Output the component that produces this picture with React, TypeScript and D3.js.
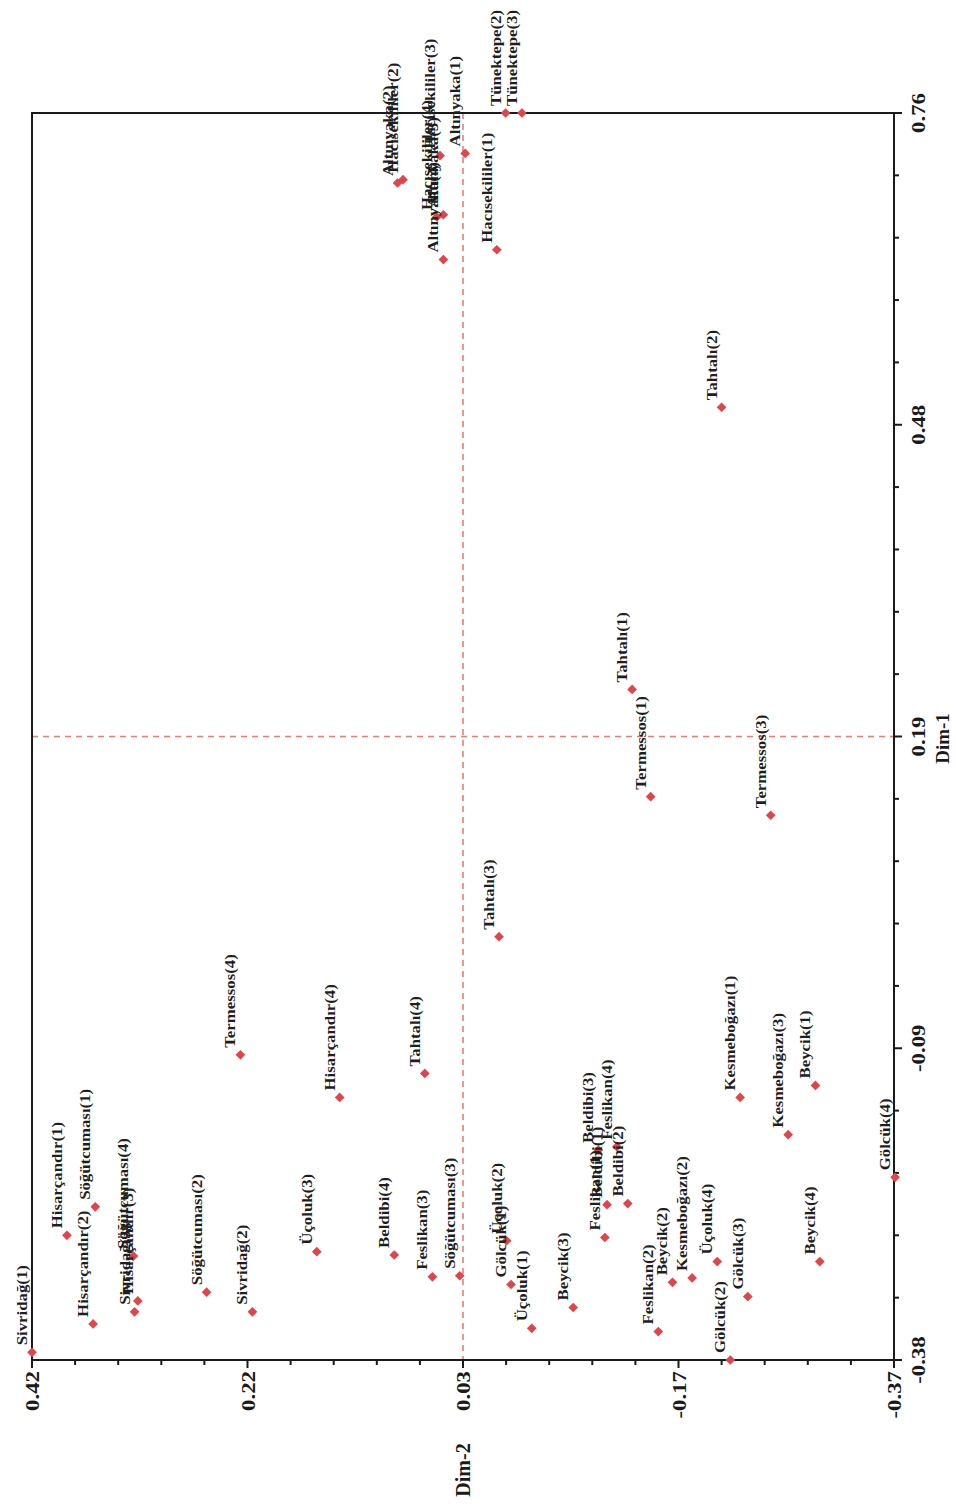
import React from "react";
import * as d3 from "d3";

// Correspondence analysis map (page rotated 90° CCW: Dim-1 runs upward, Dim-2 runs leftward)
const pointLabels = [
  "Tünektepe(2)", "Tünektepe(3)",
  "Altınyaka(1)", "Altınyaka(2)", "Altınyaka(3)", "Altınyaka(4)",
  "Hacısekililer(1)", "Hacısekililer(2)", "Hacısekililer(3)", "Hacısekililer(4)",
  "Tahtalı(1)", "Tahtalı(2)", "Tahtalı(3)", "Tahtalı(4)",
  "Termessos(1)", "Termessos(3)", "Termessos(4)",
  "Hisarçandır(1)", "Hisarçandır(2)", "Hisarçandır(3)", "Hisarçandır(4)",
  "Söğütcuması(1)", "Söğütcuması(2)", "Söğütcuması(3)", "Söğütcuması(4)",
  "Sivridağ(1)", "Sivridağ(2)", "Sivridağ(3)",
  "Üçoluk(1)", "Üçoluk(2)", "Üçoluk(3)", "Üçoluk(4)",
  "Gölcük(1)", "Gölcük(2)", "Gölcük(3)", "Gölcük(4)",
  "Beycik(1)", "Beycik(2)", "Beycik(3)", "Beycik(4)",
  "Kesmeboğazı(1)", "Kesmeboğazı(2)", "Kesmeboğazı(3)",
  "Feslikan(1)", "Feslikan(2)", "Feslikan(3)", "Feslikan(4)",
  "Beldibi(1)", "Beldibi(2)", "Beldibi(3)", "Beldibi(4)",
];

const dim1Values = [
  0.76, 0.76,
  0.723, 0.696, 0.667, 0.626,
  0.635, 0.699, 0.721, 0.665,
  0.233, 0.491, 0.007, -0.118,
  0.135, 0.118, -0.101,
  -0.266, -0.347, -0.326, -0.140,
  -0.240, -0.318, -0.303, -0.285,
  -0.373, -0.336, -0.336,
  -0.351, -0.271, -0.281, -0.290,
  -0.311, -0.380, -0.322, -0.213,
  -0.129, -0.309, -0.332, -0.290,
  -0.140, -0.305, -0.174,
  -0.268, -0.354, -0.304, -0.185,
  -0.238, -0.237, -0.188, -0.284,
];

const dim2Values = [
  -0.014, -0.029,
  0.023, 0.085, 0.043, 0.043,
  -0.006, 0.080, 0.046, 0.049,
  -0.130, -0.212, -0.008, 0.060,
  -0.147, -0.257, 0.229,
  0.388, 0.364, 0.323, 0.138,
  0.362, 0.260, 0.028, 0.327,
  0.420, 0.218, 0.326,
  -0.038, -0.015, 0.159, -0.208,
  -0.019, -0.220, -0.236, -0.371,
  -0.298, -0.167, -0.076, -0.302,
  -0.229, -0.185, -0.273,
  -0.105, -0.154, 0.053, -0.116,
  -0.107, -0.126, -0.099, 0.088,
];

const dim1Domain = [0.76, -0.38];
const dim2Domain = [0.42, -0.37];
const dim1TickLabels = ["0.76", "0.48", "0.19", "-0.09", "-0.38"];
const dim2TickLabels = ["0.42", "0.22", "0.03", "-0.17", "-0.37"];

const W = 956;
const H = 1508;
const LEFT = 32, RIGHT = 894, TOP = 113, BOTTOM = 1360;
const FONT = "'Liberation Serif', 'DejaVu Serif', serif";

export default function App() {
  const x = d3.scaleLinear().domain(dim2Domain).range([LEFT, RIGHT]);
  const y = d3.scaleLinear().domain(dim1Domain).range([TOP, BOTTOM]);

  const nMajor = 5;
  const xMajor = d3.range(nMajor).map((i) => dim2Domain[0] + (i * (dim2Domain[1] - dim2Domain[0])) / (nMajor - 1));
  const yMajor = d3.range(nMajor).map((i) => dim1Domain[0] + (i * (dim1Domain[1] - dim1Domain[0])) / (nMajor - 1));
  const xMinor = d3.range((nMajor - 1) * 5 + 1).map((i) => dim2Domain[0] + (i * (dim2Domain[1] - dim2Domain[0])) / ((nMajor - 1) * 5));
  const yMinor = d3.range((nMajor - 1) * 5 + 1).map((i) => dim1Domain[0] + (i * (dim1Domain[1] - dim1Domain[0])) / ((nMajor - 1) * 5));

  const xMid = (dim2Domain[0] + dim2Domain[1]) / 2;
  const yMid = (dim1Domain[0] + dim1Domain[1]) / 2;

  const diamond = d3.symbol().type(d3.symbolDiamond2).size(60)();

  return (
    <svg width={W} height={H} style={{ position: "absolute", left: 0, top: 0, background: "#fff" }}>
      {/* reference lines */}
      <line x1={x(xMid)} x2={x(xMid)} y1={TOP} y2={BOTTOM} stroke="#f07c6c" strokeWidth={1.6} strokeDasharray="6,5" />
      <line x1={LEFT} x2={RIGHT} y1={y(yMid)} y2={y(yMid)} stroke="#f07c6c" strokeWidth={1.6} strokeDasharray="6,5" />

      {/* frame */}
      <rect x={LEFT} y={TOP} width={RIGHT - LEFT} height={BOTTOM - TOP} fill="none" stroke="#1a1a1a" strokeWidth={2} />

      {/* bottom axis (Dim-2) */}
      {xMinor.map((v, i) => (
        <line key={"xm" + i} x1={x(v)} x2={x(v)} y1={BOTTOM} y2={BOTTOM + (i % 5 === 0 ? 8 : 5)} stroke="#1a1a1a" strokeWidth={2} />
      ))}
      {xMajor.map((v, i) => (
        <text key={"xt" + i} transform={`translate(${x(v) + 7},${BOTTOM + 11}) rotate(-90) scale(1.2,1)`} textAnchor="end"
          fontFamily={FONT} fontWeight="bold" fontSize={19} fill="#1a1a1a">{dim2TickLabels[i]}</text>
      ))}
      <text transform={`translate(${x(xMid) + 7},${BOTTOM + 110}) rotate(-90)`} textAnchor="middle"
        fontFamily={FONT} fontWeight="bold" fontSize={20} fill="#1a1a1a">Dim-2</text>

      {/* right axis (Dim-1) */}
      {yMinor.map((v, i) => (
        <line key={"ym" + i} x1={RIGHT} x2={RIGHT + (i % 5 === 0 ? 8 : 5)} y1={y(v)} y2={y(v)} stroke="#1a1a1a" strokeWidth={2} />
      ))}
      {yMajor.map((v, i) => (
        <text key={"yt" + i} transform={`translate(${RIGHT + 31},${y(v)}) rotate(-90) scale(1.2,1)`} textAnchor="middle"
          fontFamily={FONT} fontWeight="bold" fontSize={19} fill="#1a1a1a">{dim1TickLabels[i]}</text>
      ))}
      <text transform={`translate(${RIGHT + 55},${y(yMid) + 2}) rotate(-90)`} textAnchor="middle"
        fontFamily={FONT} fontWeight="bold" fontSize={19} fill="#1a1a1a">Dim-1</text>

      {/* points */}
      {pointLabels.map((lab, i) => (
        <path key={"p" + i} d={diamond} transform={`translate(${x(dim2Values[i])},${y(dim1Values[i])})`} fill="#e0454a" />
      ))}
      {pointLabels.map((lab, i) => (
        <text key={"l" + i} transform={`translate(${x(dim2Values[i]) - 5},${y(dim1Values[i]) - 7}) rotate(-90) scale(1.2,1)`}
          textAnchor="start" fontFamily={FONT} fontWeight="bold" fontSize={14} fill="#1e1e1e">{lab}</text>
      ))}
    </svg>
  );
}
